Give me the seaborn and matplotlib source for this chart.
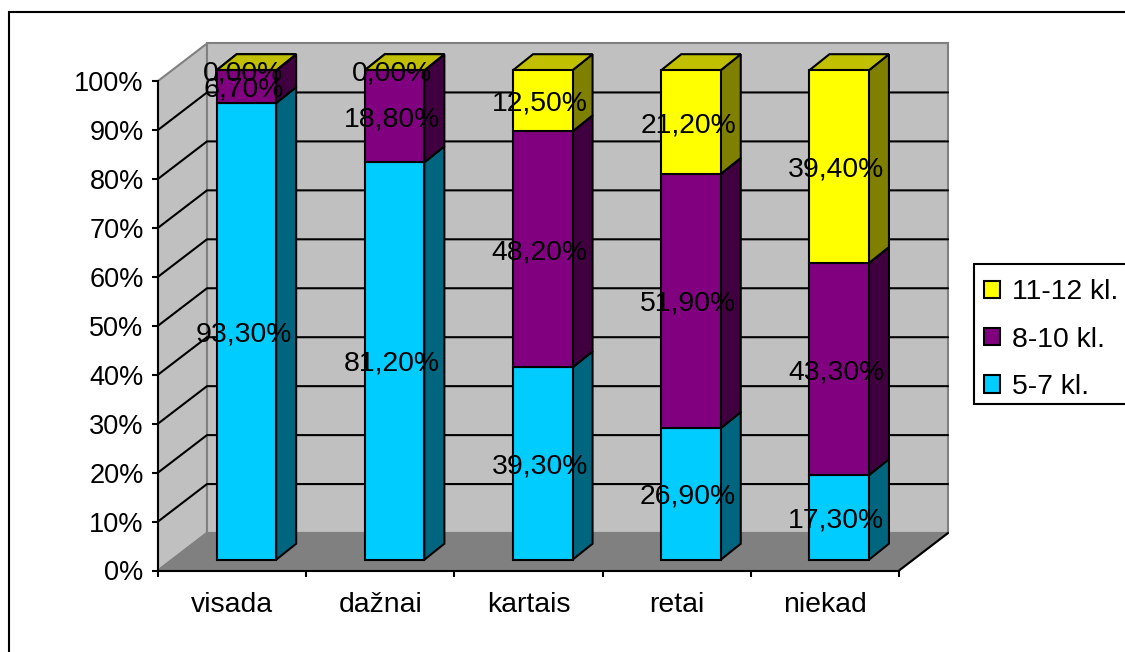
import matplotlib
matplotlib.use("Agg")
import matplotlib.pyplot as plt
import seaborn as sns
from matplotlib.lines import Line2D
from matplotlib.patches import Patch, Polygon, Rectangle
from matplotlib.transforms import Affine2D

categories = ["visada", "dažnai", "kartais", "retai", "niekad"]
grade_5_7 = [93.3, 81.2, 39.3, 26.9, 17.3]
grade_8_10 = [6.7, 18.8, 48.2, 51.9, 43.3]
grade_11_12 = [0.0, 0.0, 12.5, 21.2, 39.4]
series_names = ["5-7 kl.", "8-10 kl.", "11-12 kl."]
y_ticks = [0, 10, 20, 30, 40, 50, 60, 70, 80, 90, 100]

front_colors = ["#00CCFF", "#800080", "#FFFF00"]
side_colors = ["#006680", "#400040", "#808000"]
top_colors = ["#0099C0", "#600060", "#C0C000"]

W, H = 1125, 652
LEFT, RIGHT, TOP, BOTTOM = 158, 899, 81, 570.5
PX_X = 5 / (RIGHT - LEFT)            # data units per pixel, horizontally
PX_Y = 100 / (BOTTOM - TOP)          # data units per pixel, vertically
WALL_DX, WALL_DY = 49 * PX_X, 37.5 * PX_Y
BAR_DX, BAR_DY = 20 * PX_X, 16 * PX_Y
SHIFT_X, SHIFT_Y = 14.3 * PX_X, 10.8 * PX_Y
LINE = 1.5
GRAY = "#808080"

sns.set_theme(style="white", rc={"axes.linewidth": LINE})
plt.rcParams["font.family"] = ["Liberation Sans", "DejaVu Sans"]
FS_TICK = 19.5
FS_LABEL = 20.4

fig = plt.figure(figsize=(W / 100, H / 100), dpi=100, facecolor="white")
ax = fig.add_axes([LEFT / W, 1 - BOTTOM / H, (RIGHT - LEFT) / W, (BOTTOM - TOP) / H])
ax.patch.set_visible(False)

# Outer chart frame; its right and bottom edges run past the canvas
fig.add_artist(Rectangle((9 / W, -0.2), 1.3, 1.2 - 12 / H, transform=fig.transFigure,
                         fill=False, edgecolor="black", linewidth=LINE))

# Bars: front faces come from seaborn, stacked with a running bottom
bottoms = [0.0] * len(categories)
series_values = [grade_5_7, grade_8_10, grade_11_12]
bar_offset = Affine2D().translate(SHIFT_X, SHIFT_Y) + ax.transData
for s, values in enumerate(series_values):
    before = len(ax.patches)
    sns.barplot(x=categories, y=values, bottom=bottoms, width=59.5 * PX_X,
                color=front_colors[s], saturation=1, edgecolor="black",
                linewidth=LINE, zorder=4, ax=ax)
    for c, bar in enumerate(ax.patches[before:]):
        bar.set_transform(bar_offset)
        bar.set_clip_on(False)
        x0, x1 = bar.get_x() + SHIFT_X, bar.get_x() + bar.get_width() + SHIFT_X
        y0, y1 = bottoms[c] + SHIFT_Y, bottoms[c] + values[c] + SHIFT_Y
        # Side and top faces of the extruded bar
        ax.add_patch(Polygon([(x1, y0), (x1 + BAR_DX, y0 + BAR_DY),
                              (x1 + BAR_DX, y1 + BAR_DY), (x1, y1)],
                             facecolor=side_colors[s], edgecolor="black",
                             linewidth=LINE, zorder=3, clip_on=False))
        ax.add_patch(Polygon([(x0, y1), (x1, y1), (x1 + BAR_DX, y1 + BAR_DY),
                              (x0 + BAR_DX, y1 + BAR_DY)],
                             facecolor=top_colors[s], edgecolor="black",
                             linewidth=LINE, zorder=3, clip_on=False))
        # Value label, centred on the front face
        ax.text(c + SHIFT_X - 3 * PX_X, bottoms[c] + values[c] / 2 + SHIFT_Y,
                f"{values[c]:.2f}%".replace(".", ","), ha="center",
                va="center_baseline", fontsize=FS_LABEL, color="black", zorder=6)
    bottoms = [b + v for b, v in zip(bottoms, values)]

# Walls and floor behind the bars
x_l, x_r = -0.5, 4.5
ax.add_patch(Polygon([(x_l, 0), (x_l + WALL_DX, WALL_DY), (x_l + WALL_DX, 100 + WALL_DY), (x_l, 100)],
                     facecolor="#C0C0C0", edgecolor=GRAY, linewidth=LINE, zorder=0, clip_on=False))
ax.add_patch(Polygon([(x_l + WALL_DX, WALL_DY), (x_r + WALL_DX, WALL_DY),
                      (x_r + WALL_DX, 100 + WALL_DY), (x_l + WALL_DX, 100 + WALL_DY)],
                     facecolor="#C0C0C0", edgecolor=GRAY, linewidth=LINE, zorder=0, clip_on=False))
ax.add_patch(Polygon([(x_l, 0), (x_r, 0), (x_r + WALL_DX, WALL_DY), (x_l + WALL_DX, WALL_DY)],
                     facecolor="#808080", edgecolor=GRAY, linewidth=LINE, zorder=0.5, clip_on=False))
ax.add_line(Line2D([x_r, x_r + WALL_DX], [0, WALL_DY], color="black", linewidth=LINE,
                   zorder=1, clip_on=False))

# Gridlines wrap from the left wall onto the back wall
for v in y_ticks[1:-1]:
    ax.add_line(Line2D([x_l, x_l + WALL_DX, x_r + WALL_DX], [v, v + WALL_DY, v + WALL_DY],
                       color="black", linewidth=LINE, zorder=1, clip_on=False))

# Axes and ticks
ax.set_xlim(x_l, x_r)
ax.set_ylim(0, 100)
ax.set_yticks(y_ticks, [f"{v}%" for v in y_ticks])
ax.set_xticks([i - 0.5 for i in range(len(categories) + 1)], [""] * (len(categories) + 1))
ax.set_xticks(range(len(categories)), categories, minor=True)
ax.tick_params(axis="y", which="major", left=True, length=4.3, width=LINE, pad=6,
               labelsize=FS_TICK, color="black", labelcolor="black")
ax.tick_params(axis="x", which="major", bottom=True, length=4.3, width=LINE, color="black")
ax.tick_params(axis="x", which="minor", bottom=False, length=0, pad=15.5, labelsize=FS_LABEL,
               labelcolor="black")
for side in ("top", "right"):
    ax.spines[side].set_visible(False)
for side in ("left", "bottom"):
    ax.spines[side].set_color("black")
    ax.spines[side].set_linewidth(LINE)
    ax.spines[side].set_zorder(2)

# Legend box runs past the right edge of the canvas, with the rows sitting low inside it
fig.add_artist(Rectangle((974 / W, 1 - 404 / H), 200 / W, 140 / H, transform=fig.transFigure,
                         facecolor="white", edgecolor="black", linewidth=LINE, zorder=1))
handles = [Patch(facecolor=front_colors[s], edgecolor="black", linewidth=LINE, label=series_names[s])
           for s in (2, 1, 0)]
fig.legend(handles=handles, loc="upper left", bbox_to_anchor=(974 / W, 1 - 269.5 / H),
           bbox_transform=fig.transFigure, borderaxespad=0, fontsize=FS_LABEL, frameon=False,
           handlelength=0.565, handleheight=0.565, handletextpad=0.42, borderpad=0.35,
           labelspacing=0.75, labelcolor="black")

fig.savefig("out.png", dpi=100)
